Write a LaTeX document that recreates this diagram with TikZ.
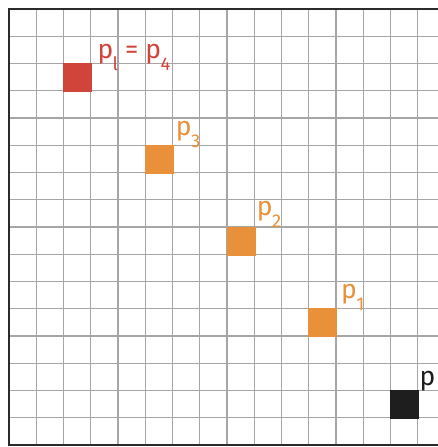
\documentclass[tikz,border=0pt]{standalone}
\usepackage{fontspec}
\setmainfont{Fira Sans}
\usetikzlibrary{calc}
\definecolor{ptred}{HTML}{D1443A}
\definecolor{ptorange}{HTML}{E8913A}
\definecolor{ptblack}{HTML}{1E1E1E}
\definecolor{gridgray}{HTML}{A6A6A6}
\definecolor{framegray}{HTML}{2A2A2A}
\newcommand{\lbsub}[1]{\kern-0.5pt\raisebox{-12pt}{\fontsize{18.5}{18.5}\selectfont #1}}
\tikzset{
  cellsq/.style={rectangle, minimum size=29pt, inner sep=0pt, draw=none},
  ptlabel/.style={anchor=base west, inner sep=0pt, font=\fontsize{26.5}{26.5}\selectfont},
  gridline/.style={draw=gridgray, line width=1.2pt},
}
\begin{document}
\begin{tikzpicture}[x=1pt,y=-1pt]
\useasboundingbox (0,0) rectangle (438,447);
\fill[white] (0,0) rectangle (438,447);
\begin{scope}
\clip (0,0) rectangle (438,447);
\foreach \i in {1,...,15}{
  \draw[gridline] ({9+27.25*\i},9) -- ({9+27.25*\i},445);
  \draw[gridline] (9,{9+27.25*\i}) -- (445,{9+27.25*\i});
}
\draw[framegray, line width=2.4pt] (9,9) rectangle (445,445);
\end{scope}
% squares
\node[cellsq, fill=ptred]    (s4) at (77.6,77.6) {};
\node[cellsq, fill=ptorange] (s3) at (159.4,159.4) {};
\node[cellsq, fill=ptorange] (s2) at (241.1,241.1) {};
\node[cellsq, fill=ptorange] (s1) at (322.9,322.9) {};
\node[cellsq, fill=ptblack]  (s0) at (404.4,404.4) {};
% labels
\node[ptlabel, text=ptred]    (l4) at (97.3,58) {p\lbsub{l} = p\lbsub{4}};
\node[ptlabel, text=ptorange] (l3) at (175.6,135) {p\lbsub{3}};
\node[ptlabel, text=ptorange] (l2) at (256.6,215) {p\lbsub{2}};
\node[ptlabel, text=ptorange] (l1) at (341,298.5) {p\lbsub{1}};
\node[ptlabel, text=ptblack]  (l0) at (419.3,385) {p};
\end{tikzpicture}
\end{document}
